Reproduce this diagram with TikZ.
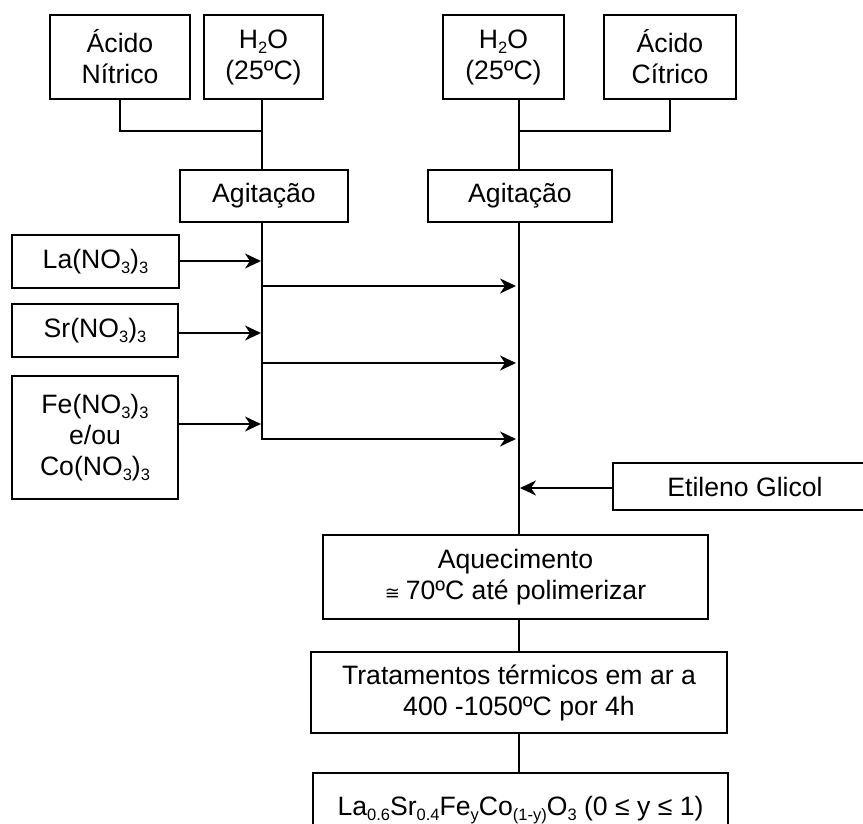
\documentclass[tikz,border=0pt]{standalone}
\usepackage{fontspec}
\setmainfont{Liberation Sans}
\newfontfamily\symbolfont{DejaVu Sans}
\usetikzlibrary{arrows.meta}
% chemical subscript: smaller and lowered
\newcommand{\chsub}[1]{\raisebox{-0.22em}{\fontsize{16.5}{16.5}\selectfont #1}}
\newcommand{\approxsym}{{\symbolfont\fontsize{18}{18}\selectfont ≅}}

\begin{document}
\begin{tikzpicture}[x=1pt,y=-1pt,
  box/.style={draw, line width=1.7pt, rectangle, inner sep=0pt, align=center,
              font=\fontsize{26.6}{31}\selectfont},
  link/.style={line width=1.7pt},
  feed/.style={link, -{Stealth[length=16pt,width=15pt,inset=5pt]}}]

\useasboundingbox (0,0) rectangle (863,823);
\clip (0,0) rectangle (863,823);

% trunk lines
\coordinate (tL) at (262,0);
\coordinate (tR) at (519,0);

% top inputs
\node[box, minimum width=140pt, minimum height=84pt] (nitric) at (120,57) {Ácido\\Nítrico};
\node[box, minimum width=119pt, minimum height=84pt] (h2oL) at (263.5,57) {H\chsub{2}O\\(25ºC)};
\node[box, minimum width=121pt, minimum height=84pt] (h2oR) at (503.5,57) {H\chsub{2}O\\(25ºC)};
\node[box, minimum width=132pt, minimum height=84pt] (citric) at (670,57) {Ácido\\Cítrico};

% stirring steps
\node[box, minimum width=168pt, minimum height=52pt] (agL) at (264,196) {Agitação};
\node[box, minimum width=184pt, minimum height=52pt] (agR) at (520,196) {Agitação};

% nitrate salts
\node[box, minimum width=167pt, minimum height=53pt] (la) at (95.5,261.5) {La(NO\chsub{3})\chsub{3}};
\node[box, minimum width=166pt, minimum height=53pt] (sr) at (95,330.5) {Sr(NO\chsub{3})\chsub{3}};
\node[box, minimum width=166pt, minimum height=123pt] (fe) at (95,437.5)
  {Fe(NO\chsub{3})\chsub{3}\\e/ou\\Co(NO\chsub{3})\chsub{3}};

% ethylene glycol
\node[box, minimum width=264pt, minimum height=47pt] (eg) at (745,486.5) {Etileno Glicol};

% processing chain
\node[box, minimum width=385pt, minimum height=84pt] (aq) at (515.5,577)
  {Aquecimento\\\approxsym\hspace{6pt}70ºC até polimerizar};
\node[box, minimum width=416pt, minimum height=81pt] (tr) at (519,692.5)
  {Tratamentos térmicos em ar a\\400 -1050ºC por 4h};
\node[box, minimum width=415pt, minimum height=74pt] (fin) at (520.5,810)
  {La\chsub{0.6}Sr\chsub{0.4}Fe\chsub{y}Co\chsub{(1-y)}O\chsub{3} (0 ≤ y ≤ 1)};

% junctions and arrow levels
\coordinate (jL) at (262,131);
\coordinate (jR) at (519,131);
\coordinate (endL) at (262,439);
\coordinate (a1) at (0,286);
\coordinate (a2) at (0,363);
\coordinate (a3) at (0,439);
\coordinate (laY) at (0,261);
\coordinate (srY) at (0,333);
\coordinate (feY) at (0,424);
\coordinate (egY) at (0,488);

% joining the top inputs
\draw[link] (nitric.south) |- (jL);
\draw[link] (h2oL.south -| tL) -- (agL.north -| tL);
\draw[link] (citric.south) |- (jR);
\draw[link] (h2oR.south -| tR) -- (agR.north -| tR);

% left trunk
\draw[link] (agL.south -| tL) -- (endL);

% salts into the left trunk
\draw[feed] (la.east |- laY) -- ([xshift=-1pt]tL |- laY);
\draw[feed] (sr.east |- srY) -- ([xshift=-1pt]tL |- srY);
\draw[feed] (fe.east |- feY) -- ([xshift=-1pt]tL |- feY);

% left trunk into the right trunk
\draw[feed] ([xshift=-0.85pt]tL |- a1) -- ([xshift=-3pt]tR |- a1);
\draw[feed] ([xshift=-0.85pt]tL |- a2) -- ([xshift=-3pt]tR |- a2);
\draw[feed] ([xshift=-0.85pt]tL |- a3) -- ([xshift=-3pt]tR |- a3);

% right trunk
\draw[link] (agR.south -| tR) -- (aq.north -| tR);
\draw[feed] (eg.west |- egY) -- ([xshift=1pt]tR |- egY);
\draw[link] (aq.south -| tR) -- (tr.north -| tR);
\draw[link] (tr.south -| tR) -- (fin.north -| tR);
\end{tikzpicture}
\end{document}
